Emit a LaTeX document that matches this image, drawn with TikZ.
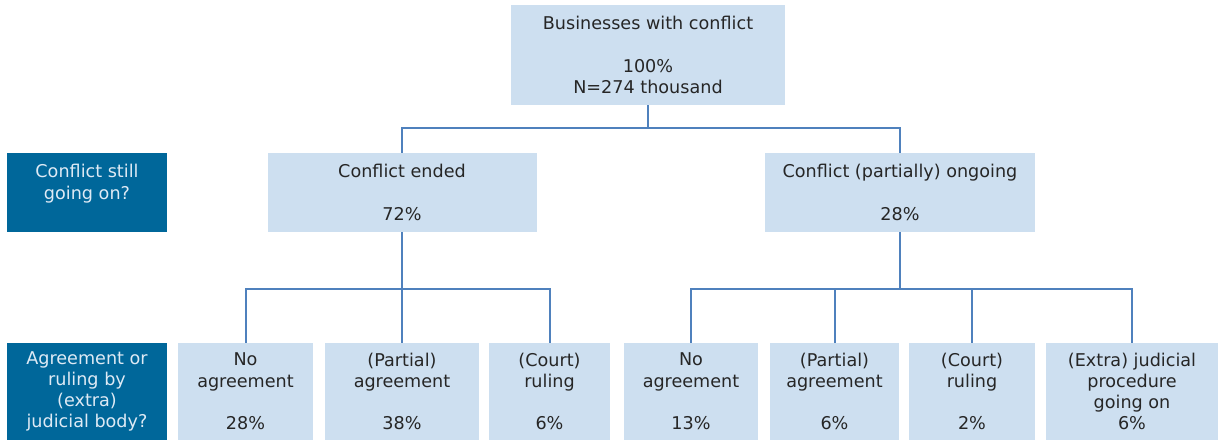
\documentclass[tikz,border=0pt]{standalone}
\usepackage{fontspec}
\setmainfont{DejaVu Sans}
\definecolor{boxblue}{RGB}{205,223,240}
\definecolor{askblue}{RGB}{0,103,154}
\definecolor{askfont}{RGB}{222,234,245}
\definecolor{linkblue}{RGB}{79,129,189}
\definecolor{inkgray}{RGB}{38,38,38}
\begin{document}
\begin{tikzpicture}[x=.5pt,y=-.5pt,line join=miter,
  every node/.style={inner sep=0pt,align=center,font=\fontsize{8.8}{10.6}\selectfont},
  box/.style={fill=boxblue,text=inkgray},
  ask/.style={fill=askblue,text=askfont,minimum width=80pt},
  link/.style={draw=linkblue,line width=1pt}]
  \useasboundingbox (0,0) rectangle (1221,444);
  \node[box,minimum width=137pt,minimum height=50pt] (all) at (648,55) {Businesses with conflict\\[10.6pt]100\%\\N=274 thousand};
  \node[ask,minimum height=39.5pt] (still) at (87,192.5) {Conflict still\\going on?\\\mbox{}};
  \node[box,minimum width=134.5pt,minimum height=39.5pt] (ended) at (402,192.5) {Conflict ended\\[10.6pt]72\%};
  \node[box,minimum width=135pt,minimum height=39.5pt] (ongoing) at (900,192.5) {Conflict (partially) ongoing\\[10.6pt]28\%};
  \node[ask,minimum height=48.5pt] (ruling) at (87,391.5) {Agreement or\\ruling by\\(extra)\\judicial body?};
  \node[box,minimum width=67.5pt,minimum height=48.5pt] (endnone) at (245.5,391.5) {No\\agreement\\[10.6pt]28\%};
  \node[box,minimum width=77pt,minimum height=48.5pt] (endpart) at (402,391.5) {(Partial)\\agreement\\[10.6pt]38\%};
  \node[box,minimum width=60.5pt,minimum height=48.5pt] (endcourt) at (549.5,391.5) {(Court)\\ruling\\[10.6pt]6\%};
  \node[box,minimum width=67pt,minimum height=48.5pt] (gonone) at (691,391.5) {No\\agreement\\[10.6pt]13\%};
  \node[box,minimum width=64.5pt,minimum height=48.5pt] (gopart) at (834.5,391.5) {(Partial)\\agreement\\[10.6pt]6\%};
  \node[box,minimum width=63pt,minimum height=48.5pt] (gocourt) at (972,391.5) {(Court)\\ruling\\[10.6pt]2\%};
  \node[box,minimum width=86pt,minimum height=48.5pt] (gojudge) at (1132,391.5) {(Extra) judicial\\procedure\\going on\\6\%};
  \coordinate (split) at (all.south |- 0,128);
  \coordinate (endsplit) at (ended.south |- 0,289);
  \coordinate (gosplit) at (ongoing.south |- 0,289);
  \draw[link] (all.south) -- (split);
  \draw[link] (ended.north) |- (split) -| (ongoing.north);
  \draw[link] (ended.south) -- (endsplit);
  \draw[link] (endnone.north) |- (endsplit) -| (endcourt.north);
  \draw[link] (endsplit) -- (endpart.north);
  \draw[link] (ongoing.south) -- (gosplit);
  \draw[link] (gonone.north) |- (gosplit) -| (gojudge.north);
  \draw[link] (gopart.north) |- (gosplit);
  \draw[link] (gocourt.north) |- (gosplit);
\end{tikzpicture}
\end{document}
